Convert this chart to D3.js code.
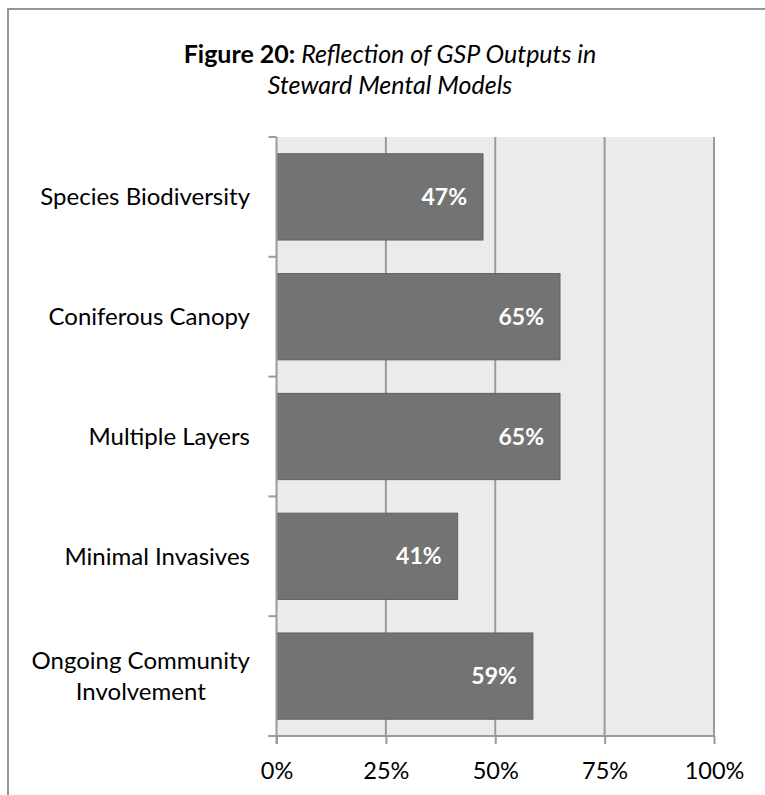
<!DOCTYPE html>
<html>
<head>
<meta charset="utf-8">
<script src="https://cdn.jsdelivr.net/npm/d3@7"></script>
<style>
  html, body { margin: 0; padding: 0; background: #fff; }
  svg { display: block; }
  text { font-family: Lato, "Open Sans", sans-serif; }
</style>
</head>
<body>
<svg id="chart" width="765" height="795"></svg>
<script>
const categories = ["Species Biodiversity", "Coniferous Canopy", "Multiple Layers", "Minimal Invasives", "Ongoing Community Involvement"];
const categoryLines = [["Species Biodiversity"], ["Coniferous Canopy"], ["Multiple Layers"], ["Minimal Invasives"], ["Ongoing Community", "Involvement"]];
const values = [0.472, 0.648, 0.648, 0.414, 0.586];
const xTicks = [0, 0.25, 0.5, 0.75, 1];
const titleBold = "Figure 20:";
const titleItalic1 = " Reflection of GSP Outputs in";
const titleItalic2 = "Steward Mental Models";

const svg = d3.select("#chart");
const W = 765, H = 795;
const plot = { left: 276.5, right: 714, top: 137, bottom: 736 };

// outer border
svg.append("rect").attr("x", 8).attr("y", 9).attr("width", W + 10).attr("height", H + 10)
  .attr("fill", "#fff").attr("stroke", "#969696").attr("stroke-width", 2);

// title
const t = svg.append("text").attr("x", 390).attr("y", 63).attr("text-anchor", "middle")
  .attr("font-size", 25).attr("fill", "#000");
t.append("tspan").attr("font-weight", "bold").text(titleBold);
t.append("tspan").attr("font-style", "italic").text(titleItalic1);
svg.append("text").attr("x", 390).attr("y", 94).attr("text-anchor", "middle")
  .attr("font-size", 25).attr("font-style", "italic").attr("fill", "#000").text(titleItalic2);

const x = d3.scaleLinear().domain([0, 1]).range([plot.left, plot.right]);
const y = d3.scaleBand().domain(categories).range([plot.top, plot.bottom]).paddingInner(0.28).paddingOuter(0.14);
const yBand = d3.scaleBand().domain(categories).range([plot.top, plot.bottom]).padding(0);

// plot background
svg.append("rect").attr("x", plot.left).attr("y", plot.top)
  .attr("width", plot.right - plot.left).attr("height", plot.bottom - plot.top)
  .attr("fill", "#ebebeb");

// gridlines
svg.append("g").selectAll("line").data(xTicks.slice(1)).join("line")
  .attr("x1", d => x(d)).attr("x2", d => x(d))
  .attr("y1", plot.top).attr("y2", plot.bottom)
  .attr("stroke", "#9a9a9a").attr("stroke-width", 2);

// bars
svg.append("g").selectAll("rect").data(values).join("rect")
  .attr("x", x(0)).attr("y", (d, i) => y(categories[i]))
  .attr("width", d => x(d) - x(0)).attr("height", y.bandwidth())
  .attr("fill", "#737373").attr("stroke", "#606060").attr("stroke-width", 1);

// bar labels
svg.append("g").selectAll("text").data(values).join("text")
  .attr("x", d => x(d) - 16)
  .attr("y", (d, i) => y(categories[i]) + y.bandwidth() / 2)
  .attr("dy", "0.35em").attr("text-anchor", "end")
  .attr("font-size", 23).attr("font-weight", "bold").attr("fill", "#fff")
  .text(d => d3.format(".0%")(d));

// x axis
const xAxis = d3.axisBottom(x).tickValues(xTicks).tickFormat(d3.format(".0%")).tickSize(8).tickPadding(18);
const gx = svg.append("g").attr("transform", `translate(0,${plot.bottom})`).call(xAxis);
gx.select(".domain").attr("stroke", "#9a9a9a").attr("stroke-width", 2).attr("d", `M${plot.left - 8},0H${plot.right}`);
gx.selectAll(".tick line").attr("stroke", "#9a9a9a").attr("stroke-width", 2);
gx.selectAll(".tick text").attr("font-size", 23.5).attr("fill", "#000").attr("font-family", "Lato, sans-serif");

// y axis line and ticks at band boundaries
const boundaries = categories.map(c => yBand(c)).concat([plot.bottom]);
svg.append("line").attr("x1", plot.left).attr("x2", plot.left)
  .attr("y1", plot.top).attr("y2", plot.bottom + 8)
  .attr("stroke", "#9a9a9a").attr("stroke-width", 2);
svg.append("g").selectAll("line").data(boundaries).join("line")
  .attr("x1", plot.left - 8).attr("x2", plot.left)
  .attr("y1", d => d).attr("y2", d => d)
  .attr("stroke", "#9a9a9a").attr("stroke-width", 2);

// category labels
const labelRight = 250;
const lineH = 31;
categoryLines.forEach((lines, i) => {
  const cy = yBand(categories[i]) + yBand.bandwidth() / 2;
  const g = svg.append("g");
  const texts = lines.map((ln, j) => g.append("text")
    .attr("y", cy + (j - (lines.length - 1) / 2) * lineH)
    .attr("dy", "0.35em").attr("font-size", 24).attr("fill", "#000")
    .attr("text-anchor", "middle").text(ln));
  const maxW = d3.max(texts, tx => tx.node().getComputedTextLength());
  texts.forEach(tx => tx.attr("x", labelRight - maxW / 2));
});
</script>
</body>
</html>
